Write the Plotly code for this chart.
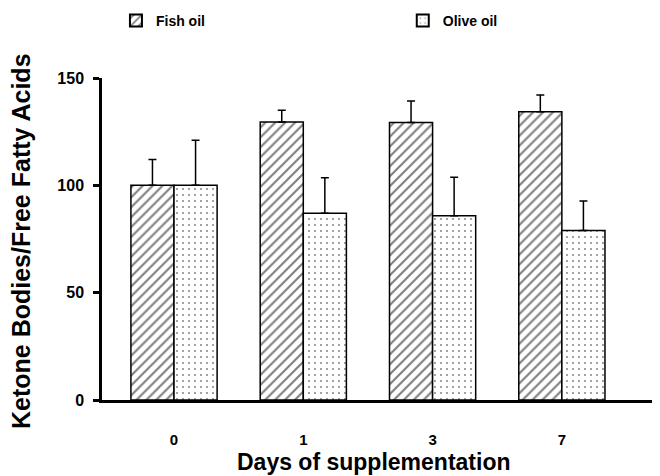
import plotly.graph_objects as go

days = ["0", "1", "3", "7"]
fish_oil = [100, 129.5, 129.3, 134.3]
fish_err = [12, 5.5, 10, 7.8]
olive_oil = [100, 87, 85.8, 79]
olive_err = [21, 16.5, 18, 13.7]
y_ticks = [0, 50, 100, 150]

FONT = "Liberation Sans, Arial, sans-serif"
# the page body adds an 8px offset; margins below compensate for it
OFF = 8

fig = go.Figure()
fig.add_trace(go.Bar(
    name="Fish oil", x=days, y=fish_oil, legend="legend",
    error_y=dict(type="data", symmetric=False, array=fish_err,
                 arrayminus=[0] * len(fish_err), color="black", thickness=1.5, width=4),
    marker=dict(color="white", line=dict(color="black", width=1.5),
                pattern=dict(shape="/", fgcolor="black", bgcolor="white", size=7, solidity=0.3)),
))
fig.add_trace(go.Bar(
    name="Olive oil", x=days, y=olive_oil, legend="legend2",
    error_y=dict(type="data", symmetric=False, array=olive_err,
                 arrayminus=[0] * len(olive_err), color="black", thickness=1.5, width=4),
    marker=dict(color="white", line=dict(color="black", width=1.5),
                pattern=dict(shape=".", fgcolor="black", bgcolor="white", size=6, solidity=0.08)),
))

legend_font = dict(size=14, family=FONT, weight="bold")
fig.update_layout(
    width=660, height=476,
    margin=dict(l=102 - OFF, r=OFF, t=78 - OFF, b=76 + OFF, autoexpand=False),
    paper_bgcolor="white", plot_bgcolor="white",
    barmode="group", bargap=1/3, bargroupgap=0,
    font=dict(family=FONT, color="black"),
    showlegend=True,
    legend=dict(orientation="h", x=0.025, y=(400 - 21) / 322, xanchor="left", yanchor="middle",
                font=legend_font, itemsizing="constant"),
    legend2=dict(orientation="h", x=0.539, y=(400 - 21) / 322, xanchor="left", yanchor="middle",
                 font=legend_font, itemsizing="constant"),
    xaxis=dict(type="category", range=[-0.557, 3.759], showline=True, linecolor="black",
               linewidth=2.5, showgrid=False, ticks="", ticklabelstandoff=24,
               tickfont=dict(size=15, family=FONT, weight="bold"), zeroline=False),
    yaxis=dict(range=[0, 150], tickvals=y_ticks, showline=True, linecolor="black",
               linewidth=2.5, showgrid=False, ticks="outside", ticklen=6, tickwidth=2.5,
               tickcolor="black", ticklabelstandoff=6,
               tickfont=dict(size=16, family=FONT, weight="bold"), zeroline=False),
    annotations=[
        dict(text="Days of supplementation", xref="paper", yref="paper",
             x=(373.5 - 102) / 558, y=(400 - 462) / 322, xanchor="center", yanchor="middle",
             showarrow=False, font=dict(size=23, family=FONT, weight="bold")),
        dict(text="Ketone Bodies/Free Fatty Acids", xref="paper", yref="paper",
             x=(21 - 102) / 558, y=(400 - 241) / 322, xanchor="center", yanchor="middle",
             textangle=-90, showarrow=False, font=dict(size=25, family=FONT, weight="bold")),
    ],
)

fig.write_html("out.html")
